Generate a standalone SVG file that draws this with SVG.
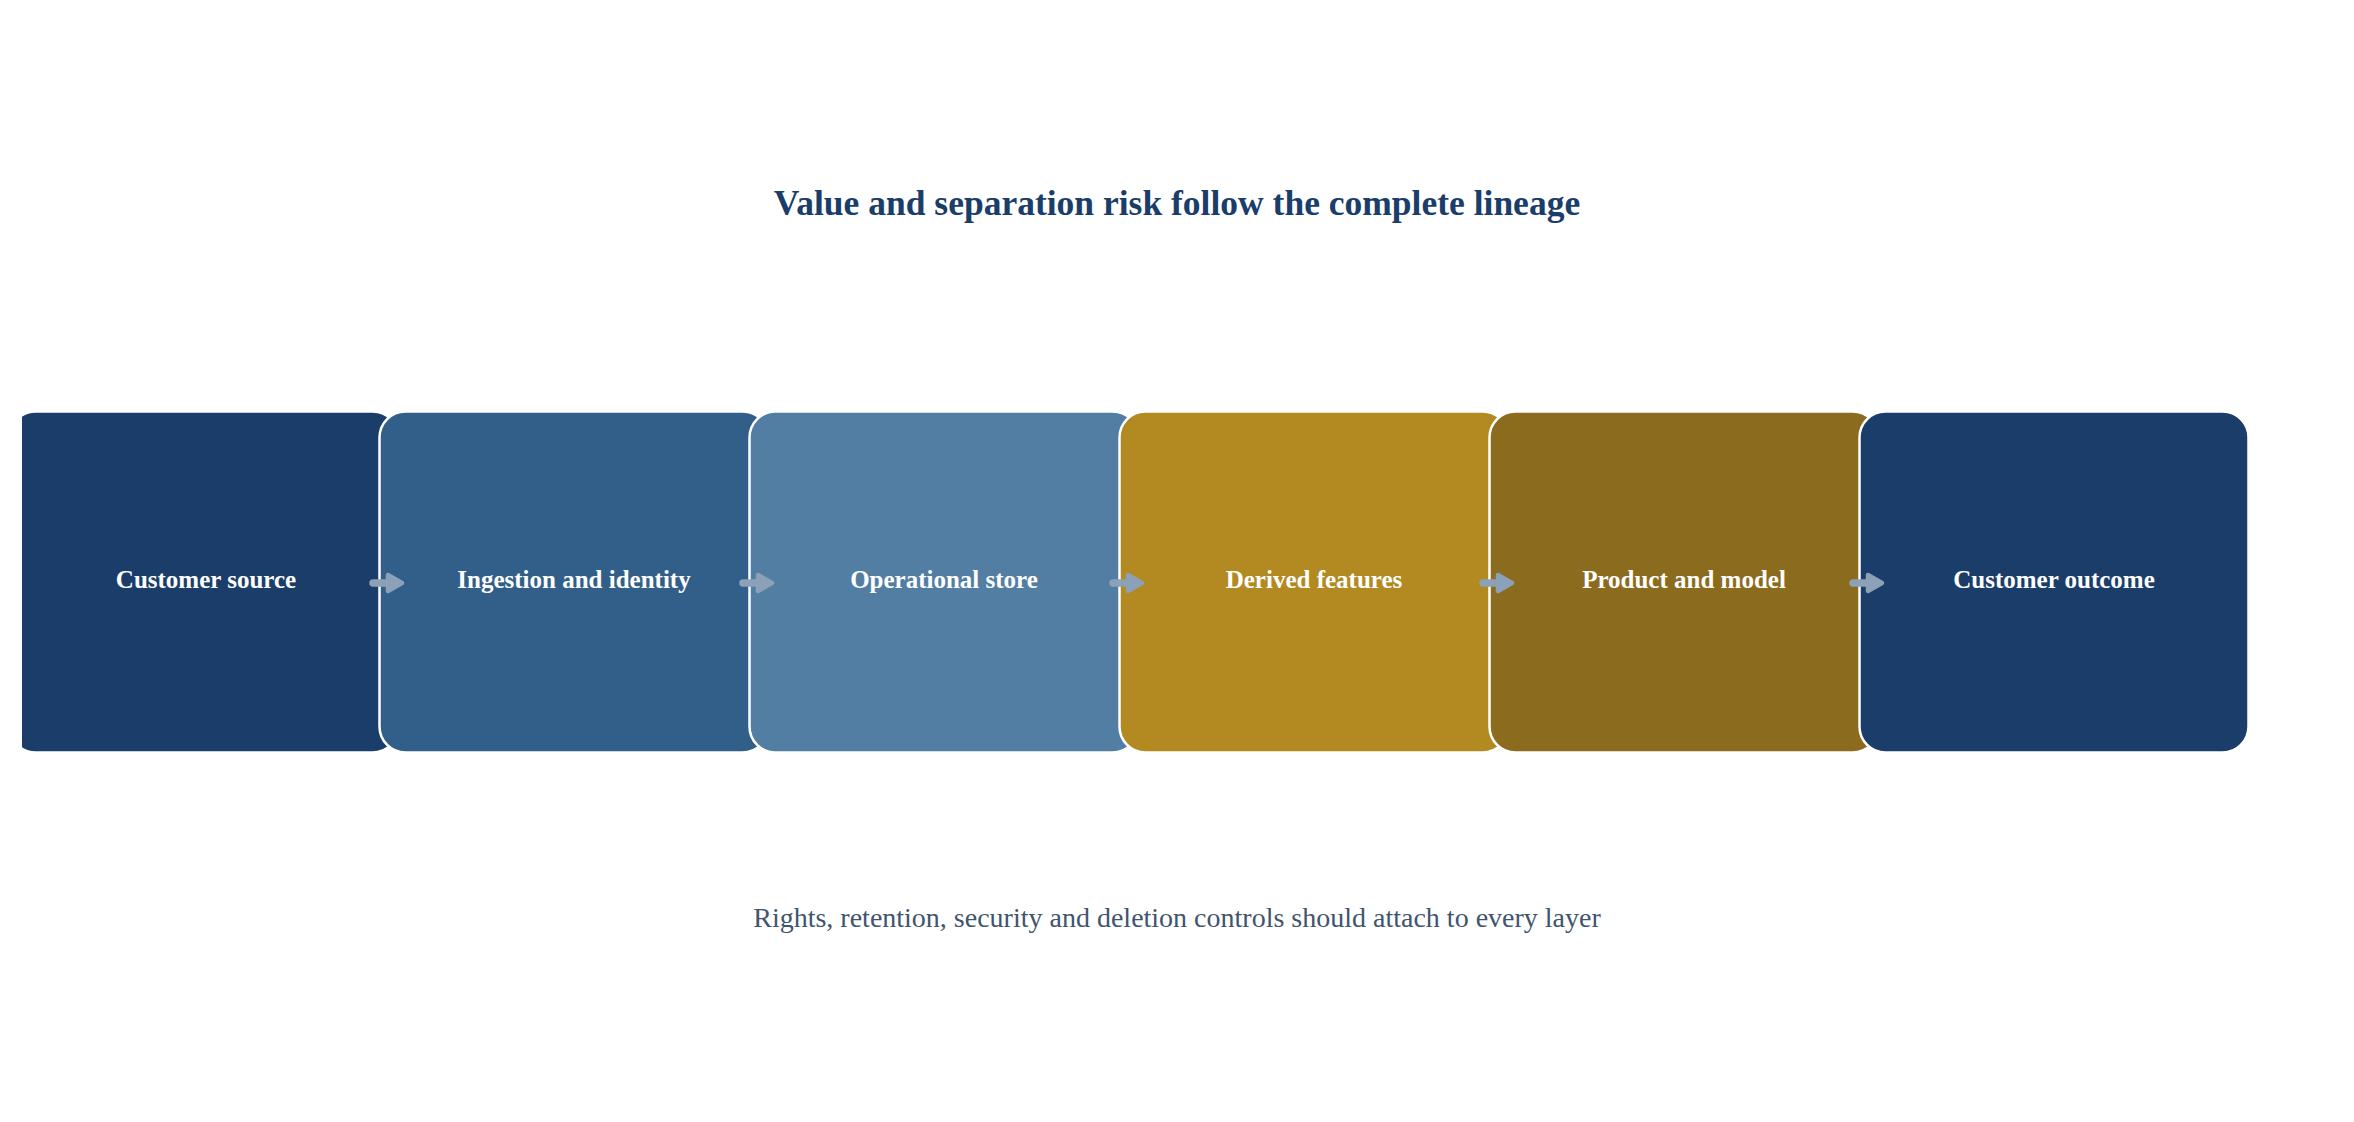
<svg xmlns="http://www.w3.org/2000/svg" width="2354" height="1122" viewBox="0 0 2354 1122">
  <defs>
    <clipPath id="leftClip"><rect x="22" y="0" width="2332" height="1122"/></clipPath>
    <style>
      .box { stroke: #ffffff; stroke-width: 2.5; }
      .lbl { font-family: "Liberation Serif", "Times New Roman", serif; font-weight: bold; font-size: 25px; fill: #ffffff; text-anchor: middle; }
      .title { font-family: "Liberation Serif", "Times New Roman", serif; font-weight: bold; font-size: 35.5px; fill: #1a3d69; text-anchor: middle; }
      .sub { font-family: "Liberation Serif", "Times New Roman", serif; font-size: 28px; fill: #41546e; text-anchor: middle; }
      .shaft { stroke: #8ca1b8; stroke-width: 7.5; stroke-linecap: round; fill: none; }
      .head { fill: #8ca1b8; stroke: #8ca1b8; stroke-width: 4.5; stroke-linejoin: round; }
    </style>
  </defs>
  <rect x="0" y="0" width="2354" height="1122" fill="#ffffff"/>
  <text class="title" x="1177" y="215">Value and separation risk follow the complete lineage</text>

  <g id="node-customer-source" clip-path="url(#leftClip)">
    <rect class="box" x="9.5" y="411.5" width="389" height="341" rx="26" fill="#1a3d69"/>
    <text class="lbl" x="206" y="588">Customer source</text>
  </g>
  <g id="node-ingestion">
    <rect class="box" x="379.5" y="411.5" width="389" height="341" rx="26" fill="#325f8a"/>
    <text class="lbl" x="574" y="588">Ingestion and identity</text>
  </g>
  <g id="node-operational-store">
    <rect class="box" x="749.5" y="411.5" width="389" height="341" rx="26" fill="#527ea3"/>
    <text class="lbl" x="944" y="588">Operational store</text>
  </g>
  <g id="node-derived-features">
    <rect class="box" x="1119.5" y="411.5" width="389" height="341" rx="26" fill="#b28a21"/>
    <text class="lbl" x="1314" y="588">Derived features</text>
  </g>
  <g id="node-product-model">
    <rect class="box" x="1489.5" y="411.5" width="389" height="341" rx="26" fill="#8b6b1e"/>
    <text class="lbl" x="1684" y="588">Product and model</text>
  </g>
  <g id="node-customer-outcome">
    <rect class="box" x="1859.5" y="411.5" width="389" height="341" rx="26" fill="#1a3d69"/>
    <text class="lbl" x="2054" y="588">Customer outcome</text>
  </g>

  <g id="connectors">
    <g transform="translate(0,0)">
      <line class="shaft" x1="373" y1="583" x2="394" y2="583"/>
      <polygon class="head" points="388,575 402,583 388,591"/>
    </g>
    <g transform="translate(370,0)">
      <line class="shaft" x1="373" y1="583" x2="394" y2="583"/>
      <polygon class="head" points="388,575 402,583 388,591"/>
    </g>
    <g transform="translate(740,0)">
      <line class="shaft" x1="373" y1="583" x2="394" y2="583"/>
      <polygon class="head" points="388,575 402,583 388,591"/>
    </g>
    <g transform="translate(1110,0)">
      <line class="shaft" x1="373" y1="583" x2="394" y2="583"/>
      <polygon class="head" points="388,575 402,583 388,591"/>
    </g>
    <g transform="translate(1480,0)">
      <line class="shaft" x1="373" y1="583" x2="394" y2="583"/>
      <polygon class="head" points="388,575 402,583 388,591"/>
    </g>
  </g>

  <text class="sub" x="1177" y="927">Rights, retention, security and deletion controls should attach to every layer</text>
</svg>
